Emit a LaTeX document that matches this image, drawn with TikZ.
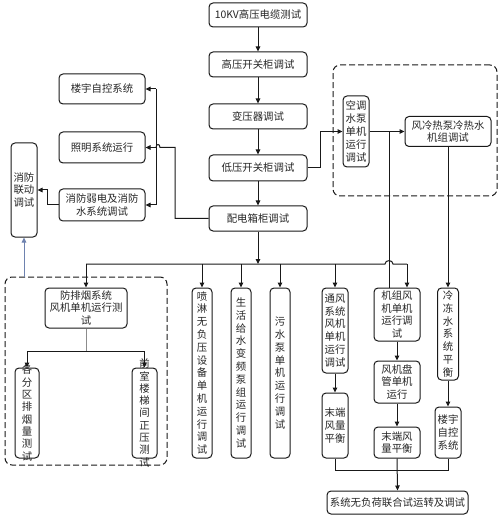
\documentclass[tikz,border=0pt]{standalone}
\usepackage{fontspec}
\newfontfamily\cjk{Noto Sans CJK SC}
\usetikzlibrary{arrows.meta}
\definecolor{bluegray}{RGB}{110,130,175}
\begin{document}
\begin{tikzpicture}[x=1pt,y=-1pt,
  box/.style={draw=black!90, line width=1pt, rounded corners=4pt, inner sep=0pt, align=center,
    font=\cjk\fontsize{10.4}{12.8}\selectfont, text=black!85},
  txt/.style={inner sep=0pt, align=center, font=\cjk\fontsize{10.4}{12.3}\selectfont, text=black!85},
  lnk/.style={draw=black!90, line width=1pt},
  arr/.style={lnk, -{Triangle[length=5pt,width=4.5pt]}},
  dbox/.style={draw=black!90, line width=1pt, dash pattern=on 6pt off 3pt, rounded corners=7pt, inner sep=0pt}]
\useasboundingbox (0,0) rectangle (500,518);
\fill[white] (0,0) rectangle (500,518);

% dashed groups
\node[dbox, minimum width=162pt, minimum height=188pt] (DL) at (86,371) {};
\node[dbox, minimum width=164pt, minimum height=131pt] (DR) at (415,130.5) {};

% main column
\node[box, minimum width=98pt, minimum height=24pt] (A) at (258,15) {10KV高压电缆测试};
\node[box, minimum width=98pt, minimum height=25pt] (B) at (258,64.5) {高压开关柜调试};
\node[box, minimum width=98pt, minimum height=25pt] (C) at (258,116.5) {变压器调试};
\node[box, minimum width=98pt, minimum height=26pt] (D) at (258,168) {低压开关柜调试};
\node[box, minimum width=98pt, minimum height=25pt] (E) at (258,218.5) {配电箱柜调试};

% left branch
\node[box, minimum width=86pt, minimum height=30pt] (L1) at (102,89) {楼宇自控系统};
\node[box, minimum width=86pt, minimum height=31pt] (L2) at (102,147.5) {照明系统运行};
\node[box, minimum width=86pt, minimum height=32pt] (L3) at (102,205) {消防弱电及消防\\水系统调试};
\node[box, minimum width=26pt, minimum height=94pt] (F) at (24,190) {消防\\联动\\调试};

% right dashed group
\node[box, minimum width=26pt, minimum height=71pt] (P) at (356,131.5) {空调\\水泵\\单机\\运行\\调试};
\node[box, minimum width=86pt, minimum height=30pt] (Q) at (448,131.5) {风冷热泵冷热水\\机组调试};

% bottom-left group
\node[box, minimum width=82pt, minimum height=40pt] (G) at (86,308) {防排烟系统\\风机单机运行测\\试};
\node[box, minimum width=24pt, minimum height=90pt] (H1) at (27,413) {};
\node[txt] at (H1.center) {各\\分\\区\\排\\烟\\量\\测\\试};
\node[box, minimum width=25pt, minimum height=90pt] (H2) at (144.5,413) {};
\node[txt] at (H2.center) {前\\室\\楼\\梯\\间\\正\\压\\测\\试};

% middle columns
\node[box, minimum width=20pt, minimum height=170pt] (M1) at (202,373) {喷\\淋\\无\\负\\压\\设\\备\\单\\机\\运\\行\\调\\试};
\node[box, minimum width=20pt, minimum height=170pt] (M2) at (241,373) {生\\活\\给\\水\\变\\频\\泵\\组\\运\\行\\调\\试};
\node[box, minimum width=20pt, minimum height=170pt] (M3) at (280,373) {污\\水\\泵\\单\\机\\运\\行\\调\\试};
\node[box, minimum width=26pt, minimum height=85pt] (N1) at (335,330.5) {通风\\系统\\风机\\单机\\运行\\调试};
\node[box, minimum width=26pt, minimum height=65pt] (N2) at (335,425.5) {末端\\风量\\平衡};
\node[box, minimum width=46pt, minimum height=53pt] (K1) at (397,314.5) {机组风\\机单机\\运行调\\试};
\node[box, minimum width=46pt, minimum height=42pt] (K2) at (397,382) {风机盘\\管单机\\运行};
\node[box, minimum width=46pt, minimum height=31pt] (K3) at (397,442.5) {末端风\\量平衡};
\node[box, minimum width=21pt, minimum height=92pt] (R1) at (448,334) {冷\\冻\\水\\系\\统\\平\\衡};
\node[box, minimum width=26pt, minimum height=51pt] (R2) at (448,432.5) {楼宇\\自控\\系统};
\node[box, minimum width=141pt, minimum height=23pt] (Z) at (397.5,502.5) {系统无负荷联合试运转及调试};

% main column arrows
\draw[arr] (A) -- (B);
\draw[arr] (B) -- (C);
\draw[arr] (C) -- (D);
\draw[arr] (D) -- (E);

% left branch connectors
\coordinate (lvT) at (156,89);
\coordinate (lvB) at (156,205);
\coordinate (hop) at (156,147.5);
\coordinate (fx) at (175,147.5);
\draw[lnk] (lvT) -- (lvB);
\draw[arr] (lvT) -- (L1.east);
\draw[arr] (hop) -- (L2.east);
\draw[arr] (lvB) -- (L3.east);
\draw[lnk] (E.west) -| (fx) -- ([xshift=4pt]hop) .. controls ([xshift=4pt,yshift=4pt]hop) and ([yshift=4pt]hop) .. (hop);
\draw[arr] (L3.west) -- ++(-11,0) |- (F.east);
\draw[-{Triangle[length=5pt,width=4.5pt]}, line width=1pt, color=bluegray] (F.south |- DL.north) -- (F.south);

% right group connectors
\coordinate (pj) at (389,131.5);
\draw[arr] (D.east) -- ++(13,0) |- (P.west);
\draw[arr] (P.east) -- (Q.west);
\draw[lnk] (pj) -- ([xshift=-8pt]K1.north);
\draw[arr] (Q.south) -- (R1.north);

% bus
\coordinate (bus) at (258,264);
\coordinate (busL) at (86,264);
\coordinate (busX) at (389,264);
\coordinate (busR) at (407,264);
\draw[arr] (E.south) -- (bus);
\draw[lnk] (busL) -- ([xshift=-4pt]busX) .. controls ([xshift=-4pt,yshift=4.5pt]busX) and ([xshift=4pt,yshift=4.5pt]busX) .. ([xshift=4pt]busX) -- (busR);
\draw[arr] (busL) -- (G.north);
\draw[arr] (M1.north |- bus) -- (M1.north);
\draw[arr] (M2.north |- bus) -- (M2.north);
\draw[arr] (M3.north |- bus) -- (M3.north);
\draw[arr] (N1.north |- bus) -- (N1.north);
\draw[arr] (busR) -- ([xshift=10pt]K1.north);

% bottom-left split
\draw[line width=1pt, draw=black!45] (G.south) -- ++(0,23) coordinate (gs);
\draw[arr] (gs) -| (H1.north);
\draw[arr] (gs) -| (H2.north);

% columns
\draw[arr] (N1) -- (N2);
\draw[arr] (K1) -- (K2);
\draw[arr] (K2) -- (K3);
\draw[arr] (R1) -- (R2);
\draw[lnk] (N2.south) -- ++(0,12) -| (R2.south);
\draw[arr] (K3.south) -- (Z.north);
\end{tikzpicture}
\end{document}
